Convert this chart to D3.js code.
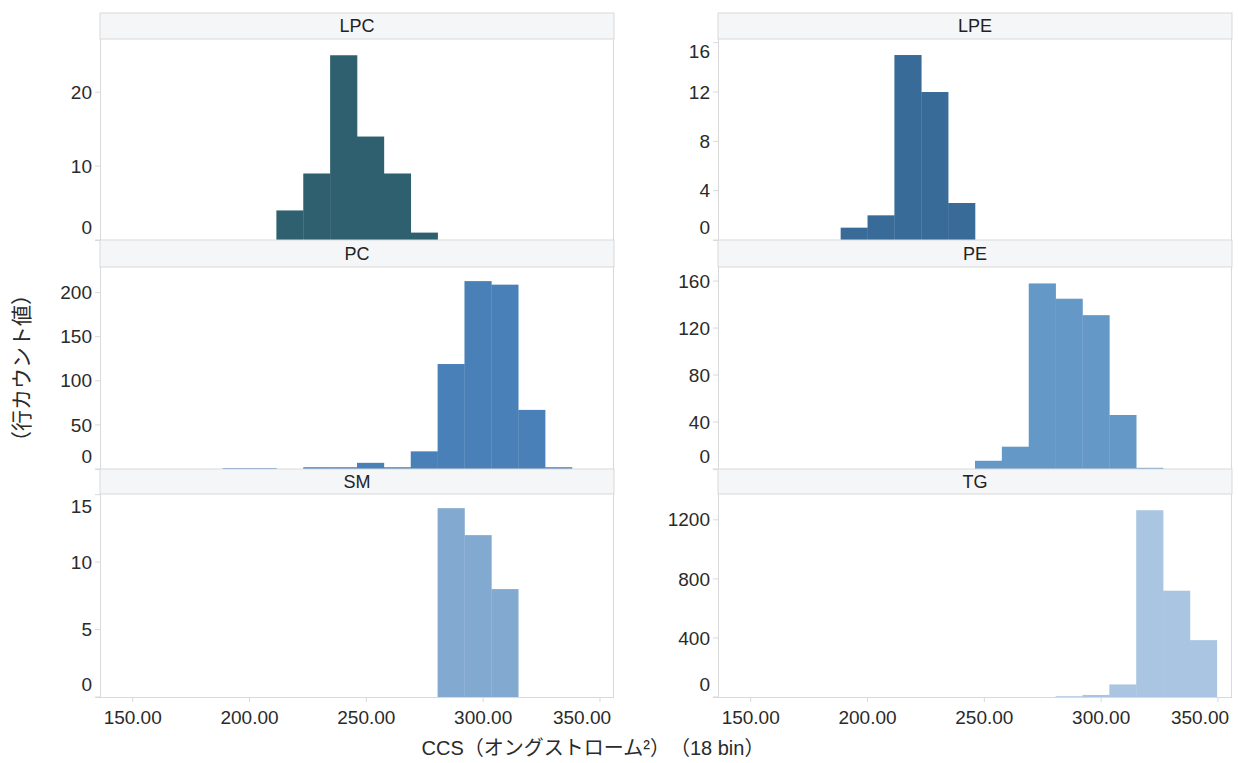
<!DOCTYPE html>
<html>
<head>
<meta charset="utf-8">
<script src="https://cdn.jsdelivr.net/npm/d3@7"></script>
<style>
  body { margin: 0; background: #fff; }
  svg { font-family: "Liberation Sans", Arial, sans-serif; }
  .tick-label { font-size: 19px; fill: #2a2a2a; }
  .head-label { font-size: 18px; fill: #222; }
  .axis-title { font-size: 20px; fill: #2a2a2a; font-family: "Liberation Sans", "Noto Sans CJK JP", sans-serif; }
</style>
</head>
<body>
<div id="chart"></div>
<script>
// CCS bins (lower edge, angstrom^2), 18 bin setting
const binStarts = [188.5, 200, 211.5, 223, 234.5, 246, 257.5, 269, 280.5, 292, 303.5, 315, 326.5, 338];
const binWidth = 11.5;

const classNames = ['LPC', 'LPE', 'PC', 'PE', 'SM', 'TG'];
const countsLPC = [0, 0, 4, 9, 25, 14, 9, 1, 0, 0, 0, 0, 0, 0];
const countsLPE = [1, 2, 15, 12, 3, 0, 0, 0, 0, 0, 0, 0, 0, 0];
const countsPC  = [1, 1, 0, 2, 2, 7, 2, 20, 119, 213, 209, 67, 2, 0];
const countsPE  = [0, 0, 0, 0, 0, 7, 19, 158, 145, 131, 46, 1, 0, 0];
const countsSM  = [0, 0, 0, 0, 0, 0, 0, 0, 14, 12, 8, 0, 0, 0];
const countsTG  = [0, 0, 0, 0, 0, 0, 0, 0, 5, 14, 85, 1265, 720, 385];

const yTicksLPC = [0, 10, 20];
const yTicksLPE = [0, 4, 8, 12, 16];
const yTicksPC  = [0, 50, 100, 150, 200];
const yTicksPE  = [0, 40, 80, 120, 160];
const yTicksSM  = [0, 5, 10, 15];
const yTicksTG  = [0, 400, 800, 1200];
const yMaxes = [27.2, 16.3, 229, 172, 15.05, 1375];

const xTicks = [150, 200, 250, 300, 350];
const xDomain = [136, 356];
const xTitle = 'CCS（オングストローム²）　（18 bin）';
const yTitle = '（行カウント値）';

const colors = ['#2e6070', '#386b98', '#4a80b8', '#6498c7', '#82a9d0', '#a9c5e1'];

const allCounts = [countsLPC, countsLPE, countsPC, countsPE, countsSM, countsTG];
const allTicks = [yTicksLPC, yTicksLPE, yTicksPC, yTicksPE, yTicksSM, yTicksTG];

const W = 1238, H = 763;
const colX = [100, 718];
const panelW = 514;
const rowHeadTop = [13, 240, 469];
const rowPlotTop = [39, 267, 494];
const rowPlotBottom = [240, 469, 697];
const borderColor = '#d9d9d9';

const svg = d3.select('#chart').append('svg')
  .attr('width', W)
  .attr('height', H);

const xScale = d3.scaleLinear().domain(xDomain).range([0, panelW]);

classNames.forEach((name, i) => {
  const col = i % 2, row = Math.floor(i / 2);
  const left = colX[col];
  const headTop = rowHeadTop[row];
  const top = rowPlotTop[row];
  const bottom = rowPlotBottom[row];

  const g = svg.append('g').attr('transform', `translate(${left},0)`);

  // header band
  g.append('rect')
    .attr('x', 0).attr('y', headTop)
    .attr('width', panelW).attr('height', top - headTop)
    .attr('fill', '#f5f6f8')
    .attr('stroke', borderColor).attr('stroke-width', 1);
  g.append('text')
    .attr('class', 'head-label')
    .attr('x', panelW / 2)
    .attr('y', (headTop + top) / 2 + 6)
    .attr('text-anchor', 'middle')
    .text(name);

  const yScale = d3.scaleLinear().domain([0, yMaxes[i]]).range([bottom, top]);

  // bars
  const bins = binStarts.map((b, k) => ({ x0: b, x1: b + binWidth, v: allCounts[i][k] }))
    .filter(d => d.v > 0);
  g.selectAll('.bar')
    .data(bins)
    .enter().append('rect')
    .attr('class', 'bar')
    .attr('x', d => xScale(d.x0))
    .attr('width', d => xScale(d.x1) - xScale(d.x0) + 0.3)
    .attr('y', d => yScale(d.v))
    .attr('height', d => bottom - yScale(d.v))
    .attr('fill', colors[i]);

  // panel side borders
  g.append('line')
    .attr('x1', 0.5).attr('x2', 0.5).attr('y1', top).attr('y2', bottom)
    .attr('stroke', borderColor);
  g.append('line')
    .attr('x1', panelW - 0.5).attr('x2', panelW - 0.5).attr('y1', top).attr('y2', bottom)
    .attr('stroke', borderColor);
  g.append('line')
    .attr('x1', -5).attr('x2', panelW).attr('y1', bottom + 0.5).attr('y2', bottom + 0.5)
    .attr('stroke', borderColor);

  // y ticks
  const ticks = allTicks[i];
  g.selectAll('.ytick')
    .data(ticks)
    .enter().append('line')
    .attr('x1', -5).attr('x2', 0)
    .attr('y1', d => yScale(d)).attr('y2', d => yScale(d))
    .attr('stroke', borderColor);
  g.selectAll('.ylab')
    .data(ticks)
    .enter().append('text')
    .attr('class', 'tick-label')
    .attr('x', -8)
    .attr('y', d => Math.min(Math.max(yScale(d), top + 12), bottom - 13))
    .attr('dy', '0.35em')
    .attr('text-anchor', 'end')
    .text(d => d);

  // x axis on bottom row (labels kept inside the panel width)
  if (row === 2) {
    g.selectAll('.xtick')
      .data(xTicks)
      .enter().append('line')
      .attr('x1', d => xScale(d)).attr('x2', d => xScale(d))
      .attr('y1', bottom).attr('y2', bottom + 5)
      .attr('stroke', borderColor);
    g.selectAll('.xlab')
      .data(xTicks)
      .enter().append('text')
      .attr('class', 'tick-label')
      .attr('x', d => Math.min(xScale(d), panelW - 32))
      .attr('y', bottom + 27)
      .attr('text-anchor', 'middle')
      .text(d => d3.format('.2f')(d));
  }
});

svg.append('text')
  .attr('class', 'axis-title')
  .attr('x', 593)
  .attr('y', 755)
  .attr('text-anchor', 'middle')
  .text(xTitle);

svg.append('text')
  .attr('class', 'axis-title')
  .attr('transform', 'translate(29,368) rotate(-90)')
  .attr('text-anchor', 'middle')
  .style('font-size', '21px')
  .text(yTitle);
</script>
</body>
</html>
